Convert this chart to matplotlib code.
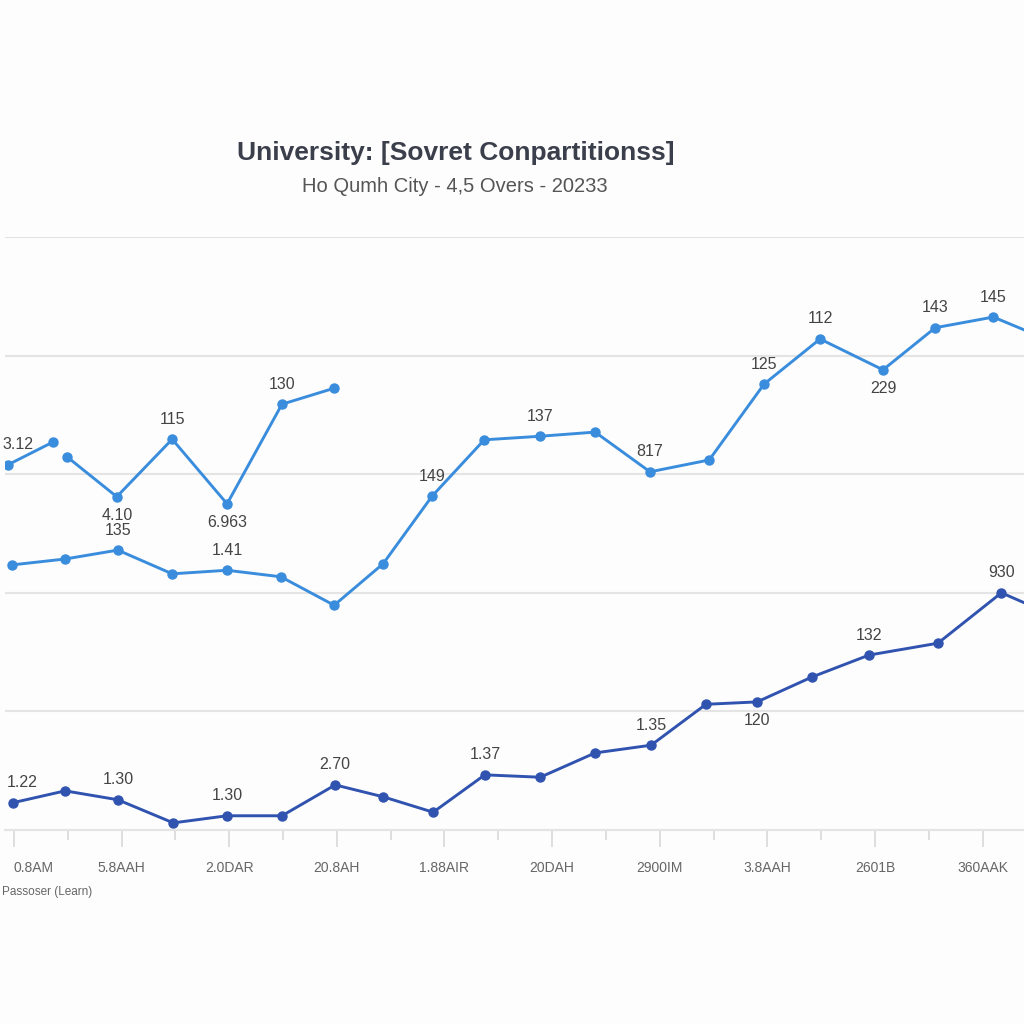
import matplotlib
matplotlib.use("Agg")
import matplotlib.pyplot as plt
import matplotlib.ticker as ticker

plt.rcParams['font.family'] = ['Liberation Sans', 'DejaVu Sans']

# tick labels along the bottom (every second step)
tick_labels = ["0.8AM", "5.8AAH", "2.0DAR", "20.8AH", "1.88AIR",
               "20DAH", "2900IM", "3.8AAH", "2601B", "360AAK"]

# upper series, drawn as two pieces (gap after the second point)
top_a_x = [-0.11, 0.72]
top_a_y = [61.6, 65.4]
top_b_x = [0.99, 1.91, 2.94, 3.96, 4.98, 5.95]
top_b_y = [62.9, 56.2, 65.9, 55.0, 71.8, 74.5]

# middle series
mid_x = [-0.04, 0.95, 1.93, 2.94, 3.96, 4.96, 5.95, 6.86, 7.77, 8.74,
         9.78, 10.8, 11.82, 12.92, 13.94, 14.98, 16.15, 17.12, 18.2, 19.18]
mid_y = [44.7, 45.7, 47.2, 43.2, 43.8, 42.7, 37.9, 44.9, 56.3, 65.8,
         66.4, 67.1, 60.4, 62.4, 75.2, 82.8, 77.6, 84.7, 86.5, 82.8]

# bottom series
low_x = [-0.02, 0.95, 1.93, 2.96, 3.96, 4.98, 5.97, 6.86, 7.79, 8.75,
         9.78, 10.8, 11.84, 12.86, 13.81, 14.83, 15.89, 17.17, 18.35, 19.26]
low_y = [4.6, 6.6, 5.1, 1.2, 2.4, 2.4, 7.6, 5.6, 3.0, 9.3,
         8.9, 13.0, 14.3, 21.2, 21.6, 25.8, 29.5, 31.5, 40.0, 36.4]

# point labels: (series, index, text, above?)
top_labels = [("a", 0, "3.12", True), ("b", 1, "4.10", False), ("b", 2, "115", True),
              ("b", 3, "6.963", False), ("b", 4, "130", True)]
mid_labels = [(2, "135", True), (4, "1.41", True), (8, "149", True), (10, "137", True),
              (12, "817", True), (14, "125", True), (15, "112", True), (16, "229", False),
              (17, "143", True), (18, "145", True)]
low_labels = [(0, "1.22", True), (2, "1.30", True), (4, "1.30", True), (6, "2.70", True),
              (9, "1.37", True), (12, "1.35", True), (14, "120", False), (16, "132", True),
              (18, "930", True)]

c_light = '#3a8ddc'
c_dark = '#3153b0'
c_text = '#444444'

fig = plt.figure(figsize=(10.24, 10.24), dpi=100)
fig.patch.set_facecolor('#fdfdfd')
ax = fig.add_axes([5/1024, 194/1024, 1019/1024, 593/1024])
ax.set_facecolor('none')

line_kw = dict(lw=2.1, marker='o', ms=6.5, solid_joinstyle='round')
ax.plot(top_a_x, top_a_y, color=c_light, **line_kw)
ax.plot(top_b_x, top_b_y, color=c_light, **line_kw)
ax.plot(mid_x, mid_y, color=c_light, **line_kw)
ax.plot(low_x, low_y, color=c_dark, **line_kw)

def label(x, y, txt, above, first=False):
    # labels on the first point sit flush with the left edge
    ax.annotate(txt, (x, y), xytext=(-6 if first else 0, 20 if above else -19),
                textcoords='offset pixels', ha='left' if first else 'center',
                va='center', fontsize=11.5, color=c_text)

for s, i, t, up in top_labels:
    xs, ys = (top_a_x, top_a_y) if s == "a" else (top_b_x, top_b_y)
    label(xs[i], ys[i], t, up, first=(s == "a" and i == 0))
for i, t, up in mid_labels:
    label(mid_x[i], mid_y[i], t, up)
for i, t, up in low_labels:
    label(low_x[i], low_y[i], t, up, first=(i == 0))

ax.set_xlim(-0.167, 18.77)
ax.set_ylim(0, 100)
ax.yaxis.set_major_locator(ticker.MultipleLocator(20))
ax.xaxis.set_major_locator(ticker.FixedLocator(range(0, 19, 2)))
ax.xaxis.set_minor_locator(ticker.FixedLocator(range(1, 19, 2)))
ax.set_xticklabels(tick_labels)
ax.get_xticklabels()[0].set_horizontalalignment('left')
ax.grid(axis='y', color='#e4e4e4', lw=1.5)
ax.set_axisbelow(True)
for s in ['top', 'right', 'left']:
    ax.spines[s].set_visible(False)
ax.spines['bottom'].set_color('#e4e4e4')
ax.spines['bottom'].set_linewidth(1.5)
ax.tick_params(axis='y', left=False, labelleft=False)
ax.tick_params(axis='x', which='major', length=12, width=1.2, color='#d8d8d8',
               labelsize=10, labelcolor='#666666', pad=10)
ax.tick_params(axis='x', which='minor', length=7, width=1.2, color='#d8d8d8')

fig.text(0.002, 0.129, "Passoser (Learn)", fontsize=8.5, color='#666666', ha='left', va='center')
fig.text(0.445, 0.851, "University: [Sovret Conpartitionss]", fontsize=19, fontweight='bold',
         color='#3b3f4b', ha='center', va='center')
fig.text(0.444, 0.818, "Ho Qumh City - 4,5 Overs - 20233", fontsize=14.5, color='#555555',
         ha='center', va='center')

fig.savefig("out.png", dpi=100, facecolor=fig.get_facecolor())
